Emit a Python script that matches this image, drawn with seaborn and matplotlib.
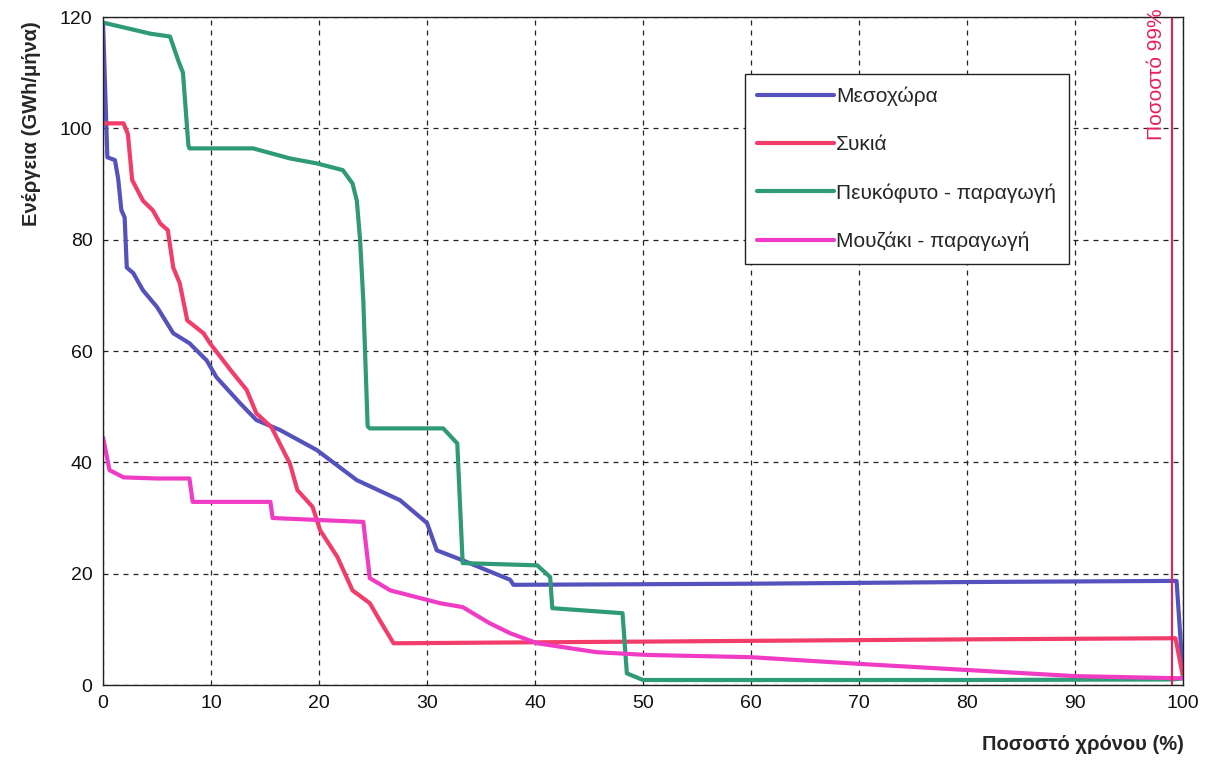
import numpy as np
import pandas as pd
import matplotlib
matplotlib.use('Agg')
import matplotlib.pyplot as plt
import seaborn as sns

# duration curves (x = % of time, y = GWh/month)
meso_x = [0, 0.4, 1.1, 1.4, 1.7, 2.0, 2.2, 2.8, 3.7, 5.0, 6.5, 8.0, 9.6, 10.5, 12.7, 14.2, 16.4,
          19.8, 23.5, 27.5, 30.0, 30.9, 33.3, 37.7, 38.0, 60, 80, 99.0, 99.4, 100]
meso_y = [119, 94.8, 94.3, 91, 85.3, 84, 75, 74, 70.9, 67.9, 63.2, 61.4, 58.3, 55.3, 50.6, 47.6, 45.8,
          42.2, 36.8, 33.2, 29.1, 24.2, 22.4, 18.9, 18.0, 18.2, 18.5, 18.7, 18.7, 1.5]

sykia_x = [0, 1.9, 2.3, 2.7, 3.7, 4.6, 5.3, 6.0, 6.5, 7.1, 7.8, 9.3, 9.9, 11.8, 13.3, 14.2, 15.6,
           17.3, 18.0, 19.4, 20.1, 21.7, 23.1, 24.7, 25.6, 26.9, 50, 80, 99.0, 99.3, 100]
sykia_y = [100.9, 100.9, 99, 90.7, 87, 85.3, 82.9, 81.7, 75, 72.2, 65.5, 63.2, 61.4, 56.6, 53, 48.8, 46.3,
           39.8, 35, 32, 27.8, 23, 17, 14.7, 11.7, 7.5, 7.8, 8.2, 8.4, 8.4, 1.5]

peuk_x = [0, 4.4, 6.2, 7.0, 7.4, 7.9, 8.0, 13.9, 17.3, 19.8, 22.2, 23.1, 23.5, 23.8, 24.1, 24.5,
          24.7, 31.5, 32.8, 33.3, 40.2, 41.4, 41.6, 48.1, 48.5, 50.0, 80, 99, 100]
peuk_y = [119, 117, 116.5, 112, 110, 97, 96.4, 96.4, 94.6, 93.7, 92.5, 90.1, 87, 80, 69, 46.5,
          46.1, 46.1, 43.4, 21.9, 21.5, 19.4, 13.8, 12.9, 2.1, 0.9, 0.9, 1.0, 1.2]

mouz_x = [0, 0.6, 1.9, 5.0, 8.0, 8.3, 15.5, 15.7, 24.1, 24.7, 26.6, 31.2, 33.3, 35.8, 37.7, 40.2,
          45.7, 50.4, 60, 70, 80, 90, 100]
mouz_y = [44.5, 38.6, 37.3, 37.1, 37.1, 32.9, 32.9, 30, 29.3, 19.2, 17, 14.7, 14, 11.1, 9.3, 7.5,
          5.9, 5.4, 5, 3.8, 2.7, 1.6, 1.2]

names = ['Μεσοχώρα', 'Συκιά', 'Πευκόφυτο - παραγωγή', 'Μουζάκι - παραγωγή']
colors = ['#5552bd', '#f23d6a', '#2e9a78', '#f03cc4']

df = pd.concat([
    pd.DataFrame({'x': meso_x, 'y': meso_y, 'series': names[0]}),
    pd.DataFrame({'x': sykia_x, 'y': sykia_y, 'series': names[1]}),
    pd.DataFrame({'x': peuk_x, 'y': peuk_y, 'series': names[2]}),
    pd.DataFrame({'x': mouz_x, 'y': mouz_y, 'series': names[3]}),
], ignore_index=True)

sns.set_style('white')
plt.rcParams['font.family'] = ['Liberation Sans', 'DejaVu Sans']

fig = plt.figure(figsize=(12.15, 7.63), dpi=100)
ax = fig.add_axes([0.0848, 0.1022, 0.8889, 0.8755])

sns.lineplot(data=df, x='x', y='y', hue='series', palette=dict(zip(names, colors)),
             sort=False, estimator=None, linewidth=3, ax=ax)

# 99% marker
ax.axvline(99, color='#e8205a', linewidth=1.5)
ax.text(98.4, 121.5, 'Ποσοστό 99%', rotation=90, color='#e8205a', fontsize=15,
        ha='right', va='top')

ax.set_xlim(0, 100)
ax.set_ylim(0, 120)
ax.set_xticks(np.arange(0, 101, 10))
ax.set_yticks(np.arange(0, 121, 20))
ax.grid(True, color='#222222', linestyle=(0, (4, 4)), linewidth=0.9)
ax.tick_params(axis='both', direction='inout', length=8, labelsize=14, colors='#111111')
for s in ax.spines.values():
    s.set_color('#222222')
    s.set_linewidth(1)

ax.set_xlabel('Ποσοστό χρόνου (%)', fontsize=14.5, fontweight='bold')
ax.xaxis.set_label_coords(0.907, -0.075)
ax.set_ylabel('Ενέργεια (GWh/μήνα)', fontsize=14.5, fontweight='bold')
ax.yaxis.set_label_coords(-0.057, 0.84)

handles, labels = ax.get_legend_handles_labels()
leg = ax.legend(handles, labels, loc='upper left', bbox_to_anchor=(0.594, 0.915),
                frameon=True, fancybox=False, fontsize=15, labelspacing=1.4,
                handlelength=3.7, handletextpad=0.1, borderpad=0.6, borderaxespad=0)
leg.get_frame().set_edgecolor('#222222')
leg.get_frame().set_linewidth(1)
leg.get_frame().set_alpha(1)
for line in leg.get_lines():
    line.set_linewidth(3)

fig.savefig('out.png', dpi=100)
